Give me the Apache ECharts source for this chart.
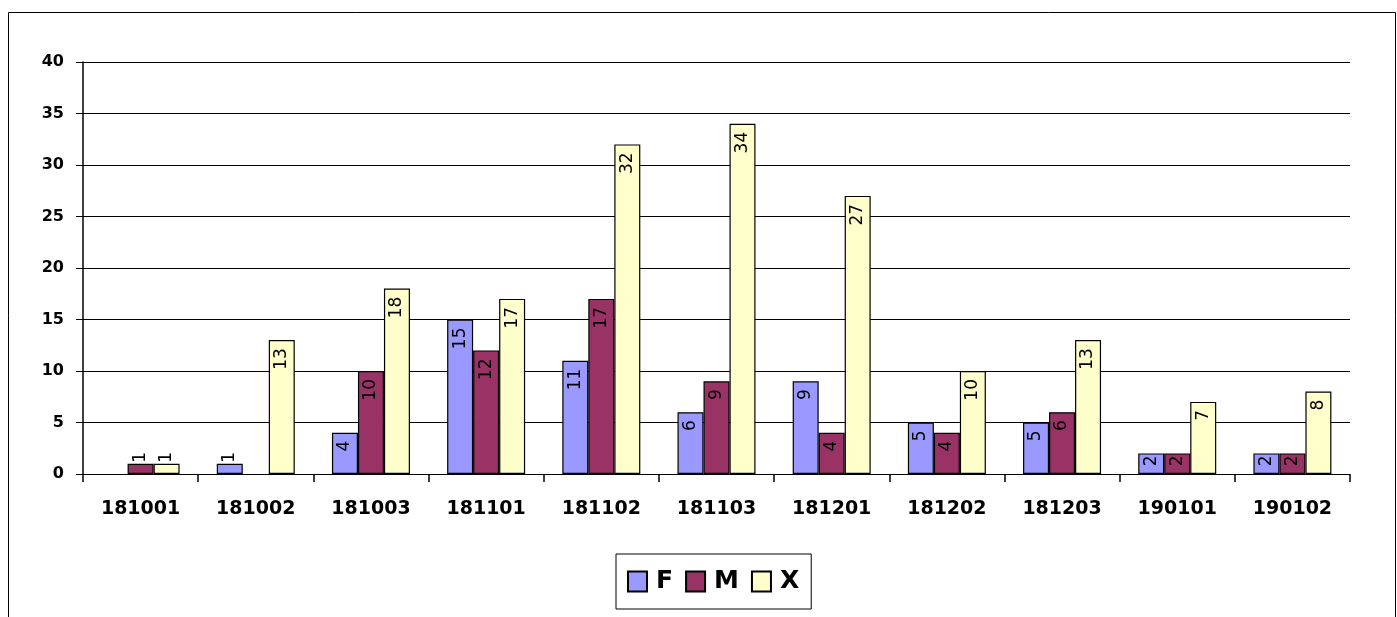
<!DOCTYPE html>
<html>
<head>
<meta charset="utf-8">
<script src="https://cdn.jsdelivr.net/npm/echarts@6/dist/echarts.min.js"></script>
<style>
html,body{margin:0;padding:0;background:#fff;}
#chart{width:1397px;height:617px;}
</style>
</head>
<body>
<div id="chart"></div>
<script>
const categories = ['181001','181002','181003','181101','181102','181103','181201','181202','181203','190101','190102'];
const seriesNames = ['F','M','X'];
const valuesF = [null, 1, 4, 15, 11, 6, 9, 5, 5, 2, 2];
const valuesM = [1, null, 10, 12, 17, 9, 4, 4, 6, 2, 2];
const valuesX = [1, 13, 18, 17, 32, 34, 27, 10, 13, 7, 8];
const colors = ['#9999FF', '#993366', '#FFFFCC'];
const yTicks = {min: 0, max: 40, interval: 5};

const chart = echarts.init(document.getElementById('chart'), null, {renderer: 'canvas'});

function buildData(vals) {
  return vals.map(v => {
    if (v === null) return '-';
    if (v < 2) {
      return {value: v, label: {position: 'top', distance: 1, align: 'left'}};
    }
    if (v < 3) {
      return {value: v, label: {distance: 2}};
    }
    return v;
  });
}

const allValues = [valuesF, valuesM, valuesX];

const option = {
  animation: false,
  backgroundColor: '#fff',
  graphic: [{
    type: 'rect',
    shape: {x: 8.5, y: 12.5, width: 1387, height: 700},
    style: {fill: 'none', stroke: '#000', lineWidth: 1},
    silent: true,
    z: -1
  }],
  grid: {left: 83, right: 47, top: 62, height: 412, containLabel: false},
  legend: {
    left: 616,
    top: 554,
    orient: 'horizontal',
    icon: 'rect',
    itemWidth: 19,
    itemHeight: 20,
    itemGap: 12,
    padding: [15, 12, 15, 11],
    borderColor: '#000',
    borderWidth: 1,
    data: seriesNames,
    textStyle: {
      fontFamily: 'DejaVu Sans',
      fontWeight: 'bold',
      fontSize: 25,
      color: '#000',
      lineHeight: 22,
      padding: [0, 0, 0, 4]
    }
  },
  xAxis: {
    type: 'category',
    data: categories,
    axisLine: {show: true, lineStyle: {color: '#000', width: 1}},
    axisTick: {show: true, alignWithLabel: false, length: 8, lineStyle: {color: '#000', width: 1.5}},
    axisLabel: {
      color: '#000',
      fontFamily: 'DejaVu Sans',
      fontWeight: 'bold',
      fontSize: 19,
      margin: 26,
      interval: 0
    },
    splitLine: {show: false}
  },
  yAxis: {
    type: 'value',
    min: yTicks.min,
    max: yTicks.max,
    interval: yTicks.interval,
    axisLine: {show: true, lineStyle: {color: '#000', width: 1.5}},
    axisTick: {show: true, length: 7, inside: false, lineStyle: {color: '#000', width: 1}},
    axisLabel: {
      color: '#000',
      fontFamily: 'DejaVu Sans',
      fontWeight: 'bold',
      fontSize: 16,
      margin: 19
    },
    splitLine: {show: true, lineStyle: {color: '#000', width: 1.2}}
  },
  series: seriesNames.map((name, i) => ({
    name: name,
    type: 'bar',
    data: buildData(allValues[i]),
    barWidth: 26,
    barGap: '0%',
    itemStyle: {color: colors[i], borderColor: '#000', borderWidth: 1.2},
    label: {
      show: true,
      position: 'insideTop',
      distance: 8,
      rotate: 90,
      align: 'right',
      verticalAlign: 'middle',
      color: '#000',
      fontFamily: 'DejaVu Sans',
      fontSize: 17
    }
  }))
};

chart.setOption(option);
</script>
</body>
</html>
